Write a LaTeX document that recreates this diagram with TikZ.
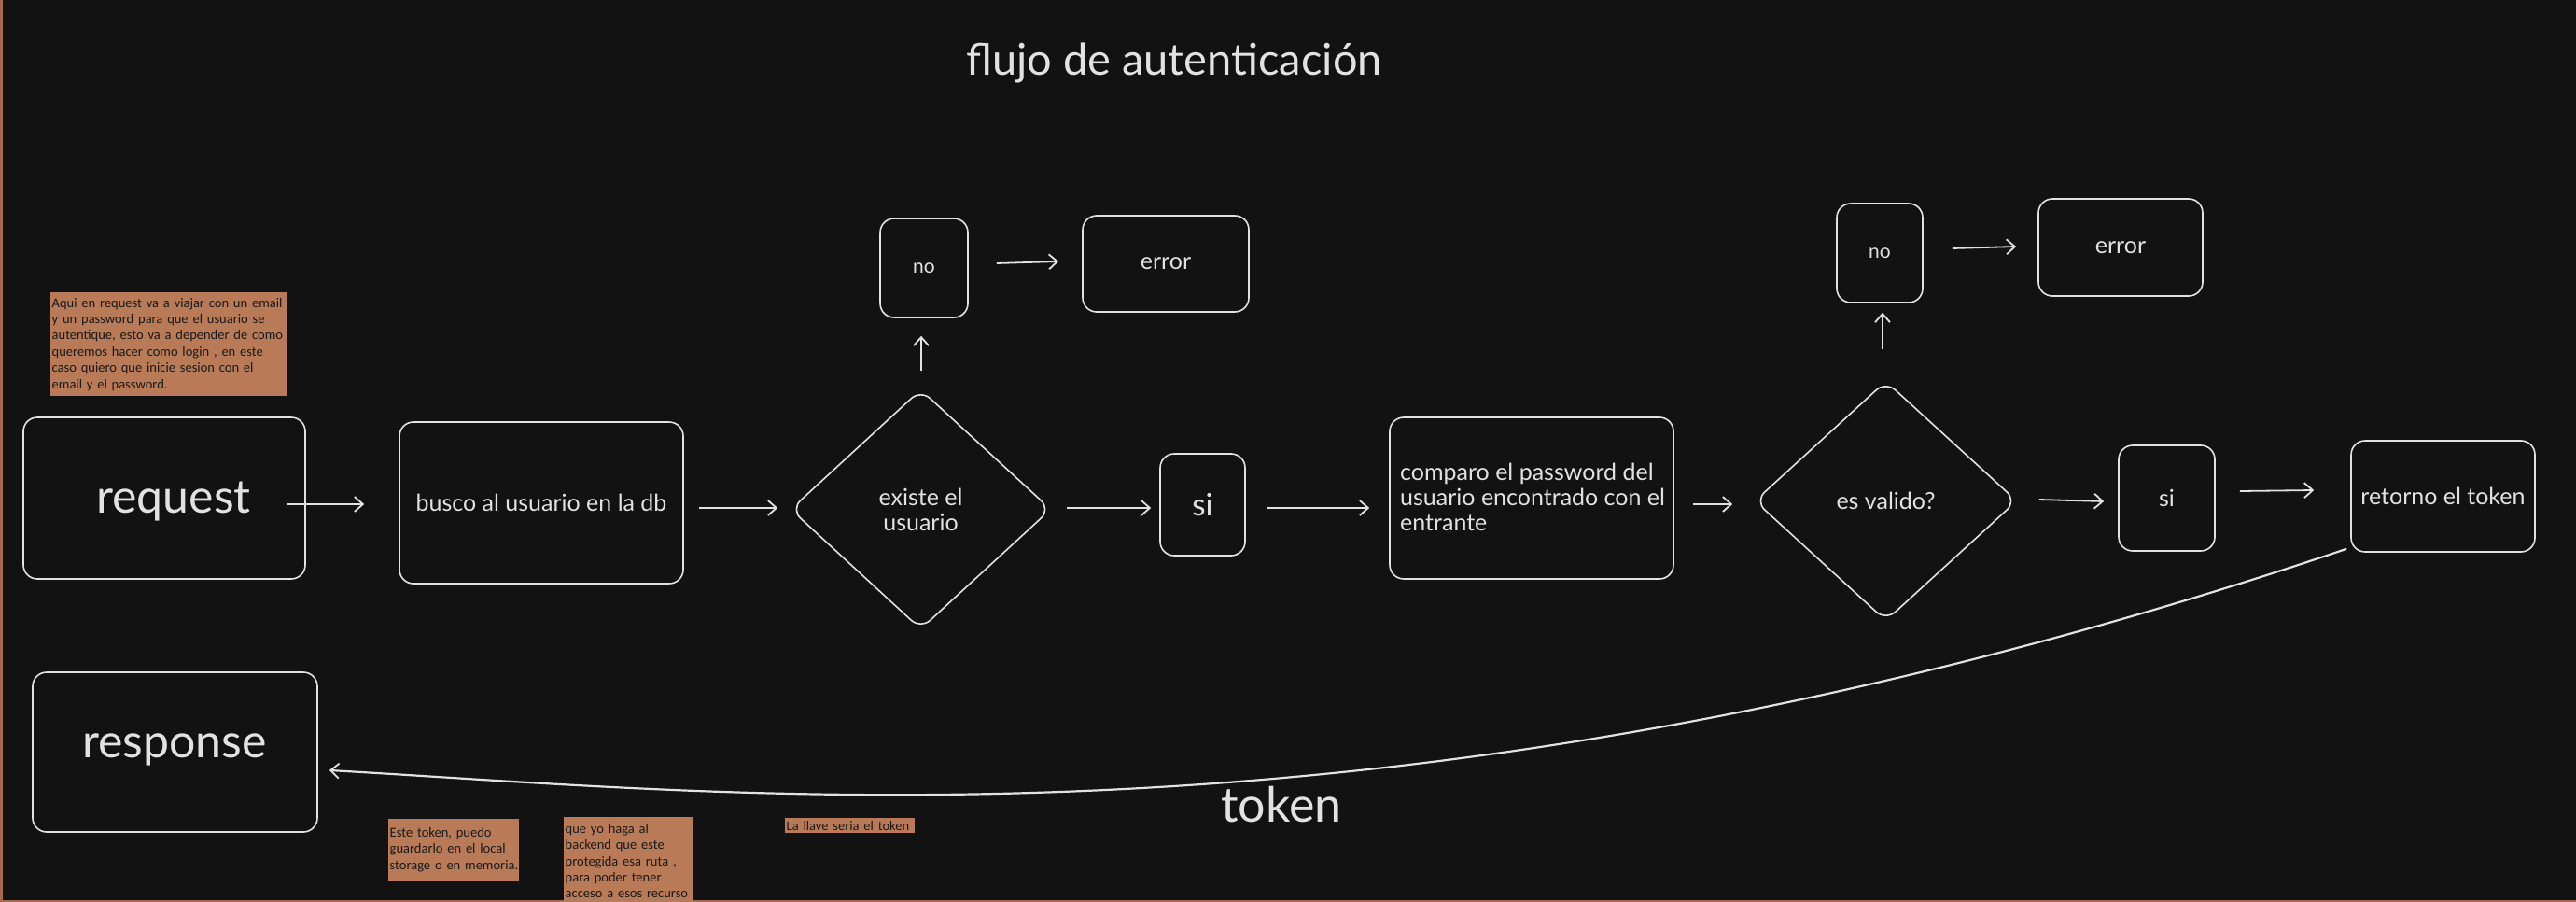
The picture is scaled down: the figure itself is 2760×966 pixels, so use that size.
\documentclass[tikz,border=0pt]{standalone}
\usepackage{fontspec}
\usetikzlibrary{shapes.geometric,arrows.meta}
\newfontfamily\handfont{Lato}
\newfontfamily\notefont{Carlito}
\definecolor{bgc}{HTML}{121212}
\definecolor{ink}{HTML}{E2E2E2}
\definecolor{notec}{HTML}{B97A57}
\definecolor{notetext}{HTML}{1A1A1A}
\definecolor{edgec}{HTML}{A5694B}
\tikzset{
  box/.style={draw=ink, line width=1.6pt, rounded corners=15pt, rectangle,
    inner sep=2pt, text=ink, font=\handfont\fontsize{25}{27}\selectfont, align=center},
  decision/.style={draw=ink, line width=1.6pt, rounded corners=14pt, diamond,
    inner sep=0pt, text=ink, font=\handfont\fontsize{25}{27}\selectfont, align=center},
  arr/.style={draw=ink, line width=1.8pt, -{Straight Barb[length=9pt,width=16pt,line width=1.8pt]}},
  stickynote/.style={fill=notec, text=notetext, anchor=north west, inner xsep=1.5pt, inner ysep=1pt,
    align=left, font=\notefont\fontsize{14.5}{17.4}\selectfont},
}
\begin{document}
\begin{tikzpicture}[x=1pt,y=-1pt]
\fill[bgc] (0,0) rectangle (2760,966);
\useasboundingbox (0,0) rectangle (2760,966);
\fill[edgec] (0,0) rectangle (2.5,966);
\fill[edgec] (0,963.5) rectangle (2760,966);

% title
\node[text=ink, font=\handfont\fontsize{47}{50}\selectfont] (title) at (1258,67) {flujo de autenticación};

% notes
\node[stickynote, text width=251pt, minimum height=111pt] (note1) at (54,313)
 {\mbox{Aqui en request va a viajar con un email}\\\mbox{y un password para que el usuario se}\\\mbox{autentique, esto va a depender de como}\\\mbox{queremos hacer como login , en este}\\\mbox{caso quiero que inicie sesion con el}\\\mbox{email y el password.}};
\node[stickynote, text width=137pt, minimum height=66pt] (note2) at (416,877)
 {\mbox{Este token, puedo}\\\mbox{guardarlo en el local}\\\mbox{storage o en memoria.}};
\node[stickynote, text width=136pt, minimum height=94pt] (note3) at (604,875)
 {\mbox{que yo haga al}\\\mbox{backend que este}\\\mbox{protegida esa ruta ,}\\\mbox{para poder tener}\\\mbox{acceso a esos recurso}};
\node[stickynote, text width=136pt, minimum height=16pt, inner ysep=0pt] (note4) at (841,876)
 {\mbox{La llave seria el token}};

% nodes
\node[box, minimum width=302pt, minimum height=173pt] (request) at (176,533.5) {};
\node[text=ink, font=\handfont\fontsize{50}{52}\selectfont] (requestlbl) at (186,537) {request};
\node[box, minimum width=304pt, minimum height=173pt] (busco) at (580,538.5) {busco al usuario en la db};
\node[decision, minimum width=279pt, minimum height=257pt] (existe) at (986.5,545.5) {existe el\\usuario};
\node[box, minimum width=94pt, minimum height=106pt, font=\handfont\fontsize{21}{23}\selectfont] (no1) at (990,287) {no};
\node[box, minimum width=178pt, minimum height=103pt] (error1) at (1249,282.5) {error};
\node[box, minimum width=91pt, minimum height=109pt, font=\handfont\fontsize{33}{35}\selectfont] (si1) at (1288.5,540.5) {si};
\node[box, minimum width=304pt, minimum height=173pt] (compare) at (1641,533.5) {};
\node[text=ink, font=\handfont\fontsize{25}{27}\selectfont, align=left, anchor=north west, inner sep=0pt] (comparelbl) at (1500,496)
 {comparo el password del\\usuario encontrado con el\\entrante};
\node[decision, minimum width=281pt, minimum height=257pt] (esvalido) at (2020.5,536.5) {es valido?};
\node[box, minimum width=92pt, minimum height=106pt, font=\handfont\fontsize{21}{23}\selectfont] (no2) at (2014,271) {no};
\node[box, minimum width=176pt, minimum height=104pt] (error2) at (2272,265) {error};
\node[box, minimum width=103pt, minimum height=113pt] (si2) at (2321.5,533.5) {si};
\node[box, minimum width=197pt, minimum height=119pt] (retorno) at (2617.5,531.5) {retorno el token};
\node[box, minimum width=305pt, minimum height=171pt] (response) at (187.5,805.5) {};
\node[text=ink, font=\handfont\fontsize{50}{52}\selectfont] (responselbl) at (187,803) {response};

% connectors
\draw[arr] ([xshift=-21pt,yshift=-6.5pt]request.east) -- ([xshift=-37pt,yshift=-1.5pt]busco.west);
\draw[arr] ([xshift=16pt,yshift=-5.5pt]busco.east) -- ([xshift=-13pt,yshift=1.5pt]existe.west);
\draw[arr] ([xshift=0.5pt,yshift=19pt]existe.north) -- ([xshift=-3pt,yshift=-19pt]no1.south);
\draw[arr] ([xshift=30pt,yshift=5pt]no1.east) -- ([xshift=-25pt,yshift=2.5pt]error1.west);
\draw[arr] ([xshift=16pt,yshift=1.5pt]existe.east) -- ([xshift=-9pt,yshift=-3.5pt]si1.west);
\draw[arr] ([xshift=23pt,yshift=-3.5pt]si1.east) -- ([xshift=-21pt,yshift=-10.5pt]compare.west);
\draw[arr] ([xshift=20pt,yshift=-6.5pt]compare.east) -- ([xshift=-23pt,yshift=-3.5pt]esvalido.west);
\draw[arr] ([xshift=-3.5pt,yshift=33pt]esvalido.north) -- ([xshift=3pt,yshift=-10pt]no2.south);
\draw[arr] ([xshift=31pt,yshift=5pt]no2.east) -- ([xshift=-23pt,yshift=1pt]error2.west);
\draw[arr] ([xshift=23pt,yshift=1.5pt]esvalido.east) -- ([xshift=-15pt,yshift=-3.5pt]si2.west);
\draw[arr] ([xshift=26pt,yshift=7.5pt]si2.east) -- ([xshift=-39pt,yshift=6.5pt]retorno.west);
\draw[arr, line width=2.2pt] ([xshift=-4pt,yshift=4pt]retorno.south west) .. controls (1500,930) and (800,850) .. ([xshift=12pt,yshift=-19.5pt]response.east);
\node[text=ink, font=\handfont\fontsize{52}{54}\selectfont] (tokenlbl) at (1373,862) {token};
\end{tikzpicture}
\end{document}
